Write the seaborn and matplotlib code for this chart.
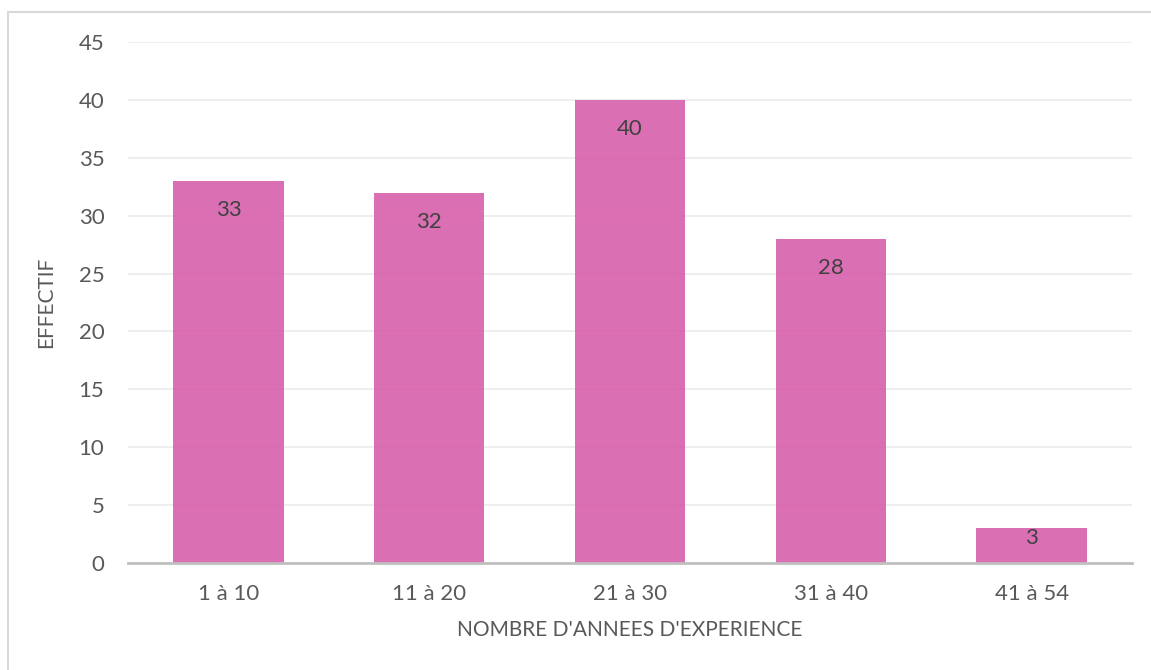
import matplotlib
matplotlib.use("Agg")
import matplotlib.pyplot as plt
import seaborn as sns
import pandas as pd
from matplotlib.patches import Rectangle

# data
categories = ["1 à 10", "11 à 20", "21 à 30", "31 à 40", "41 à 54"]
effectif = [33, 32, 40, 28, 3]
y_ticks = [0, 5, 10, 15, 20, 25, 30, 35, 40, 45]

df = pd.DataFrame({"annees": categories, "effectif": effectif})

sns.set_style("white")
plt.rcParams["font.family"] = ["Lato", "DejaVu Sans"]

W, H = 1151, 670
fig = plt.figure(figsize=(W / 100, H / 100), dpi=100)
ax = fig.add_axes([128 / W, 1 - 563 / H, (1132 - 128) / W, (563 - 42) / H])

sns.barplot(data=df, x="annees", y="effectif", color="#D85FAC", alpha=0.9,
            width=0.55, saturation=1, linewidth=0, ax=ax, zorder=3)

ax.set_ylim(0, 45)
ax.set_xlim(-0.5, len(categories) - 0.5)
ax.set_yticks(y_ticks)
ax.grid(axis="y", color="#EBEBEB", linewidth=1.2, zorder=0)
ax.set_axisbelow(True)
for side in ["top", "right", "left"]:
    ax.spines[side].set_visible(False)
ax.spines["bottom"].set_color("#BFBFBF")
ax.spines["bottom"].set_linewidth(2)
ax.spines["bottom"].set_zorder(4)
ax.tick_params(axis="both", length=0, labelsize=16, colors="#595959")
ax.tick_params(axis="y", pad=17)
ax.tick_params(axis="x", pad=15)

ax.set_xlabel("NOMBRE D'ANNEES D'EXPERIENCE", fontsize=15, color="#595959", labelpad=12)
ax.set_ylabel("EFFECTIF", fontsize=15, color="#595959", labelpad=16)

for i, v in enumerate(effectif):
    ax.annotate(str(v), (i, v), xytext=(0, -21 if v > 5 else -7), textcoords="offset points",
                ha="center", va="center", fontsize=16, color="#404040", zorder=5)

# outer frame of the chart area
fig.patches.append(Rectangle((8 / W, -0.01), 1.0, 1 - 12 / H + 0.01, transform=fig.transFigure,
                             fill=False, edgecolor="#D9D9D9", linewidth=1.5))

fig.savefig("out.png", dpi=100)
